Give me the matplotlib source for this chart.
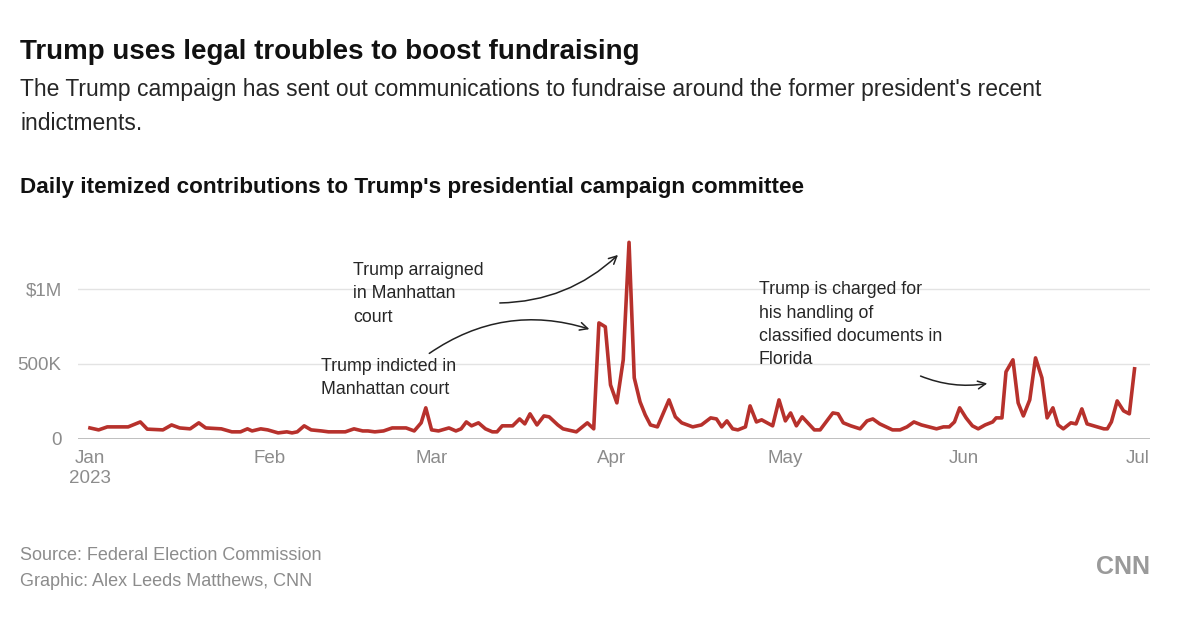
import matplotlib
matplotlib.use("Agg")
import matplotlib.pyplot as plt
from matplotlib.patches import FancyArrowPatch

plt.rcParams['font.family'] = ['Liberation Sans', 'DejaVu Sans']

# day of year (0 = Jan 1, 2023) and daily itemized contributions in dollars (thousands)
days = [0, 1.5, 3.0, 6.6, 8.7, 9.9, 12.6, 14.1, 15.5, 17.3, 18.8, 20.0, 22.7, 24.5, 26.0,
        27.2, 28.0, 29.5, 30.7, 32.5, 34.0, 34.9, 35.8, 37.0, 38.2, 40.0, 41.2, 44.1, 45.6,
        47.1, 48.0, 49.2, 50.7, 52.2, 54.6, 56.0, 57.2, 58.0, 59.0, 60.2, 62.0, 63.2, 64.1,
        65.0, 65.9, 67.1, 68.3, 69.5, 70.3, 71.2, 73.0, 74.2, 75.1, 76.0, 77.2, 78.4, 79.3,
        80.8, 81.7, 84.0, 85.9, 87.0, 87.9, 89.0, 89.9, 91.0, 92.1, 93.1, 94.0, 95.0, 95.9,
        96.8, 98.0, 100.0, 101.1, 102.2, 104.1, 105.6, 107.2, 108.2, 109.1, 110.0, 111.0,
        111.9, 113.2, 114.0, 115.1, 116.0, 117.9, 119.0, 120.1, 121.0, 122.0, 123.0, 125.1,
        126.1, 128.3, 129.2, 130.1, 131.4, 133.0, 134.2, 135.2, 136.4, 138.6, 139.9, 141.1,
        142.3, 143.6, 146.2, 147.4, 148.4, 149.3, 150.2, 151.3, 152.4, 153.4, 154.6, 155.9,
        156.5, 157.5, 158.2, 159.4, 160.3, 161.2, 162.3, 163.3, 164.4, 165.3, 166.3, 167.2,
        168.1, 169.4, 170.3, 171.3, 172.2, 175.1, 175.7, 176.4, 177.4, 178.5, 179.5, 180.4]
amounts_k = [73, 60, 80, 80, 113, 65, 60, 93, 73, 67, 107, 73, 67, 47, 47,
             67, 53, 67, 60, 40, 47, 40, 47, 87, 60, 53, 47, 47, 67,
             53, 53, 47, 53, 73, 73, 53, 107, 207, 60, 53, 73, 53, 67,
             113, 87, 107, 67, 47, 47, 87, 87, 133, 100, 167, 93, 153, 147,
             93, 67, 47, 107, 67, 773, 747, 360, 240, 527, 1310, 407, 247, 160,
             93, 80, 260, 147, 107, 80, 93, 140, 133, 80, 120, 67,
             60, 80, 220, 113, 127, 87, 260, 120, 173, 87, 147, 60,
             60, 173, 167, 107, 87, 67, 120, 133, 100, 60, 60, 80,
             113, 93, 67, 80, 80, 113, 207, 140, 87, 67, 93, 113,
             140, 140, 447, 527, 240, 153, 260, 540, 407, 140, 207, 93,
             67, 107, 100, 200, 100, 67, 67, 113, 253, 187, 167, 467]
amounts = [v * 1000 for v in amounts_k]

month_days = [0, 31, 59, 90, 120, 151, 181]
month_labels = ["Jan\n2023", "Feb", "Mar", "Apr", "May", "Jun", "Jul"]
y_ticks = [0, 500000, 1000000]
y_labels = ["0", "500K", "$1M"]

gray = "#8c8c8c"
fig = plt.figure(figsize=(12, 6.37), dpi=100)
ax = fig.add_axes([0.0653, 0.311, 0.8927, 0.318])
ax.plot(days, amounts, color="#b7312c", lw=2.6, solid_joinstyle="round", clip_on=False, zorder=3)
ax.set_xlim(-2, 183)
ax.set_ylim(0, 1350000)
ax.set_xticks(month_days)
ax.set_xticklabels(month_labels, ha="center", va="top")
ax.set_yticks(y_ticks)
ax.set_yticklabels(y_labels)
ax.tick_params(axis="both", length=0, labelsize=13.5, colors=gray)
ax.tick_params(axis="x", pad=8)
ax.tick_params(axis="y", pad=12)
for lbl in ax.get_xticklabels():
    lbl.set_linespacing(1.25)
ax.grid(axis="y", color="#e3e3e3", lw=1)
ax.axhline(0, color="#b5b5b5", lw=1.2, zorder=2)
for s in ax.spines.values():
    s.set_visible(False)

H = 637
def fy(y):
    return H - y

fig.text(20 / 1200, fy(52) / H, "Trump uses legal troubles to boost fundraising",
         fontsize=20, fontweight="bold", color="#111111", va="center")
fig.text(20 / 1200, fy(78) / H,
         "The Trump campaign has sent out communications to fundraise around the former president's recent\nindictments.",
         fontsize=16.5, color="#262626", va="top", linespacing=1.6)
fig.text(20 / 1200, fy(187) / H, "Daily itemized contributions to Trump's presidential campaign committee",
         fontsize=16.2, fontweight="bold", color="#111111", va="center")

ann = dict(fontsize=12.8, color="#262626", va="top", linespacing=1.5)
fig.text(353 / 1200, fy(262) / H, "Trump arraigned\nin Manhattan\ncourt", **ann)
fig.text(321 / 1200, fy(358) / H, "Trump indicted in\nManhattan court", **ann)
fig.text(759 / 1200, fy(281) / H, "Trump is charged for\nhis handling of\nclassified documents in\nFlorida", **ann)

arrow = dict(arrowstyle="->", color="#222222", lw=1.1, mutation_scale=14)
fig.add_artist(FancyArrowPatch((497, fy(303)), (620, fy(253)), transform=None,
                               connectionstyle="arc3,rad=0.2", **arrow))
fig.add_artist(FancyArrowPatch((427, fy(355)), (592, fy(330)), transform=None,
                               connectionstyle="arc3,rad=-0.25", **arrow))
fig.add_artist(FancyArrowPatch((918, fy(375)), (990, fy(383)), transform=None,
                               connectionstyle="arc3,rad=0.15", **arrow))

fig.text(20 / 1200, fy(556) / H, "Source: Federal Election Commission", fontsize=13, color=gray, va="center")
fig.text(20 / 1200, fy(581) / H, "Graphic: Alex Leeds Matthews, CNN", fontsize=13, color=gray, va="center")
fig.text(1150 / 1200, fy(567) / H, "CNN", fontsize=18, fontweight="bold", color="#9a9a9a",
         va="center", ha="right")

fig.savefig("out.png", dpi=100)
